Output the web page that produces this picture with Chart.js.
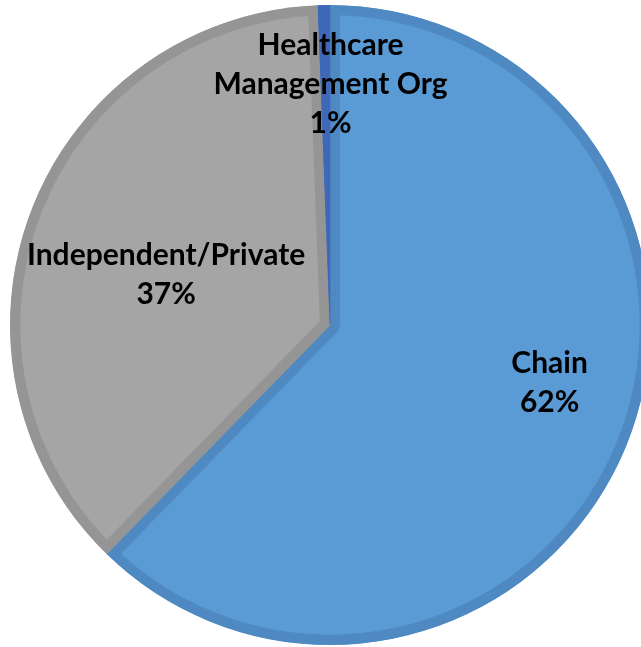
<!DOCTYPE html>
<html>
<head>
<meta charset="utf-8">
<script src="https://cdn.jsdelivr.net/npm/chart.js@4/dist/chart.umd.min.js"></script>
<style>
  html, body { margin: 0; padding: 0; background: #fff; overflow: hidden; width: 641px; height: 647px; }
  #wrap { position: relative; width: 650px; height: 647px; }
</style>
</head>
<body>
<div id="wrap"><canvas id="c" width="650" height="647"></canvas></div>
<script>
const categories = ["Chain", "Independent/Private", "Healthcare Management Org"];
const labelLines = [["Chain"], ["Independent/Private"], ["Healthcare", "Management Org"]];
const values = [62.3, 37.1, 0.6];
const percentLabels = ["62%", "37%", "1%"];

const fillColors = ["#5B9BD5", "#A5A5A5", "#4472C4"];
const borderColors = ["#4F89C1", "#959595", "#3F69B8"];

// label placement: fraction of radius and angular shift (degrees) relative to slice mid-angle
const labelFrac = [0.71, 0.536, 0.753];
const labelShift = [-7.3, -3.9, 1.2];

const labelPlugin = {
  id: 'sliceLabels',
  afterDatasetsDraw(chart) {
    const ctx = chart.ctx;
    const meta = chart.getDatasetMeta(0);
    ctx.save();
    ctx.font = 'bold 30px Lato, "Open Sans", sans-serif';
    ctx.fillStyle = '#000';
    ctx.textAlign = 'center';
    ctx.textBaseline = 'middle';
    const lh = 39;
    meta.data.forEach((arc, i) => {
      const p = arc.getProps(['x', 'y', 'startAngle', 'endAngle', 'outerRadius'], true);
      const mid = (p.startAngle + p.endAngle) / 2 + labelShift[i] * Math.PI / 180;
      const r = p.outerRadius * labelFrac[i];
      const cx = p.x + Math.cos(mid) * r;
      const cy = p.y + Math.sin(mid) * r;
      const lines = labelLines[i].concat([percentLabels[i]]);
      const y0 = cy - (lines.length - 1) * lh / 2;
      lines.forEach((t, k) => ctx.fillText(t, cx, y0 + k * lh));
    });
    ctx.restore();
  }
};

new Chart(document.getElementById('c'), {
  type: 'pie',
  data: {
    labels: categories,
    datasets: [{
      data: values,
      backgroundColor: fillColors,
      borderColor: borderColors,
      borderWidth: 10,
      borderAlign: 'inner'
    }]
  },
  options: {
    responsive: false,
    animation: false,
    layout: { padding: { left: 10, right: 0, top: 5, bottom: 2 } },
    plugins: { legend: { display: false }, tooltip: { enabled: false } }
  },
  plugins: [labelPlugin]
});
</script>
</body>
</html>
